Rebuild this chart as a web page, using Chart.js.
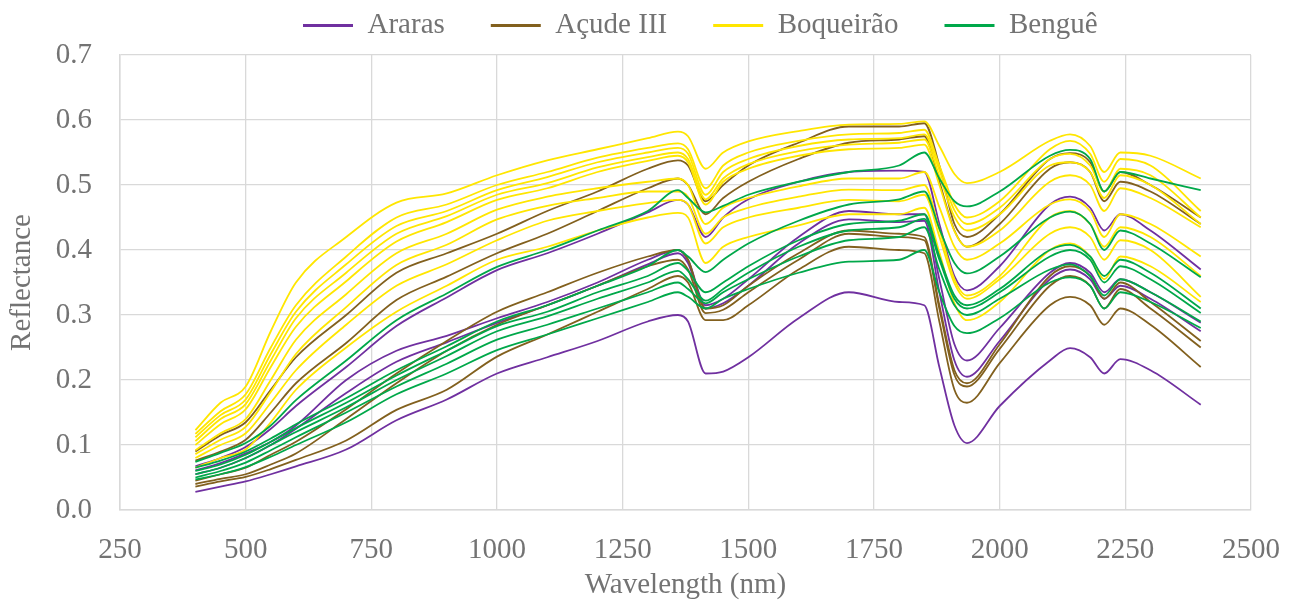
<!DOCTYPE html>
<html>
<head>
<meta charset="utf-8">
<script src="https://cdn.jsdelivr.net/npm/chart.js@4.4.1/dist/chart.umd.min.js"></script>
<style>
  html, body { margin: 0; padding: 0; background: #fff; }
  #wrap { width: 1303px; height: 603px; position: relative; }
</style>
</head>
<body>
<div id="wrap"><canvas id="grafico"></canvas></div>
<script>
// --- datos ---
const wavelength = [400, 450, 500, 550, 600, 700, 800, 900, 1000, 1100, 1200, 1300, 1360, 1380, 1415, 1450, 1500, 1600, 1700, 1800, 1850, 1880, 1910, 1935, 2000, 2100, 2140, 2180, 2208, 2240, 2300, 2400];

const seriesNames = ['Araras', 'Açude III', 'Boqueirão', 'Benguê'];
const seriesColors = ['#7030A0', '#82601E', '#FFE600', '#00A84A'];

// Araras
const araras1 = [.067, .08, .097, .125, .16, .22, .283, .327, .369, .395, .425, .458, .477, .47, .42, .45, .478, .505, .52, .522, .52, .44, .36, .338, .375, .47, .482, .465, .43, .455, .43, .37];
const araras2 = [.061, .072, .087, .105, .13, .20, .245, .268, .295, .32, .35, .385, .40, .385, .315, .325, .355, .42, .46, .455, .455, .355, .255, .23, .28, .365, .38, .365, .335, .355, .335, .288];
const araras3 = [.055, .065, .08, .10, .125, .18, .228, .258, .288, .315, .345, .378, .395, .38, .31, .318, .345, .41, .447, .443, .445, .335, .23, .205, .26, .355, .37, .355, .325, .345, .325, .275];
const araras4 = [.028, .036, .044, .055, .067, .093, .138, .17, .21, .235, .26, .29, .30, .29, .21, .213, .235, .295, .335, .32, .315, .22, .13, .103, .16, .23, .249, .235, .21, .232, .215, .162];

// Açude III
const acude1 = [.09, .115, .135, .185, .235, .30, .365, .395, .425, .46, .49, .525, .538, .53, .475, .50, .53, .565, .59, .59, .595, .53, .44, .42, .455, .54, .549, .535, .49, .52, .50, .45];
const acude2 = [.076, .09, .108, .15, .195, .257, .323, .359, .395, .425, .46, .495, .51, .50, .455, .48, .505, .54, .565, .57, .575, .505, .43, .405, .44, .525, .535, .52, .475, .505, .49, .44];
const acude3 = [.045, .055, .065, .085, .105, .155, .21, .26, .305, .335, .365, .39, .40, .385, .31, .315, .345, .395, .43, .425, .42, .315, .215, .195, .255, .36, .375, .36, .325, .35, .32, .26];
const acude4 = [.04, .048, .055, .07, .087, .14, .195, .245, .285, .315, .345, .375, .385, .37, .303, .308, .335, .385, .425, .42, .415, .31, .208, .19, .248, .345, .36, .345, .31, .34, .31, .25];
const acude5 = [.036, .044, .051, .063, .077, .107, .154, .185, .236, .27, .305, .34, .36, .35, .292, .292, .315, .37, .405, .40, .395, .29, .185, .165, .226, .315, .328, .315, .285, .31, .285, .22];

// Boqueirão
const boq1 = [.123, .165, .19, .275, .35, .42, .473, .487, .515, .538, .555, .572, .582, .575, .525, .55, .567, .583, .593, .594, .598, .56, .517, .503, .52, .568, .578, .56, .52, .55, .545, .51];
const boq2 = [.117, .152, .178, .25, .315, .39, .45, .47, .50, .52, .542, .557, .564, .555, .495, .53, .55, .568, .578, .58, .585, .53, .47, .45, .475, .555, .568, .548, .505, .54, .53, .46];
const boq3 = [.112, .146, .17, .24, .305, .378, .437, .46, .492, .512, .535, .55, .557, .548, .485, .52, .54, .56, .57, .572, .578, .523, .461, .44, .465, .54, .548, .53, .49, .525, .515, .45];
const boq4 = [.106, .14, .163, .23, .295, .365, .425, .452, .485, .503, .527, .543, .55, .54, .478, .51, .532, .552, .562, .565, .57, .514, .451, .43, .455, .53, .535, .52, .48, .515, .50, .44];
const boq5 = [.10, .132, .155, .22, .282, .352, .413, .443, .477, .495, .52, .537, .545, .535, .47, .505, .525, .545, .555, .557, .562, .50, .429, .405, .43, .505, .515, .50, .46, .495, .48, .435];
const boq6 = [.092, .118, .14, .20, .262, .332, .395, .425, .462, .482, .495, .505, .51, .50, .44, .465, .48, .498, .51, .51, .52, .466, .405, .385, .41, .47, .478, .46, .42, .455, .44, .39];
const boq7 = [.086, .108, .128, .182, .24, .312, .377, .408, .447, .468, .48, .49, .49, .482, .425, .45, .465, .482, .493, .492, .50, .432, .355, .33, .36, .45, .46, .44, .405, .435, .42, .36];
const boq8 = [.08, .10, .118, .165, .215, .285, .345, .378, .415, .445, .46, .472, .477, .47, .41, .435, .45, .465, .477, .475, .485, .421, .349, .325, .355, .425, .435, .42, .385, .415, .40, .328];
const boq9 = [.065, .08, .093, .135, .185, .25, .305, .345, .385, .405, .43, .45, .457, .45, .38, .405, .42, .438, .455, .455, .465, .396, .318, .292, .32, .40, .41, .39, .355, .39, .375, .32];

// Benguê
const bengue1 = [.074, .088, .103, .13, .169, .23, .292, .333, .374, .40, .43, .46, .492, .48, .458, .468, .485, .505, .52, .53, .55, .51, .475, .467, .49, .545, .554, .54, .49, .52, .51, .492];
const bengue2 = [.065, .076, .09, .11, .132, .172, .215, .252, .29, .315, .345, .375, .40, .39, .366, .385, .41, .445, .47, .478, .49, .433, .38, .364, .39, .45, .459, .44, .40, .43, .41, .358];
const bengue3 = [.06, .07, .085, .105, .126, .165, .207, .245, .283, .305, .335, .36, .38, .368, .335, .35, .375, .415, .44, .445, .455, .39, .33, .315, .34, .40, .408, .39, .36, .385, .365, .31];
const bengue4 = [.055, .065, .08, .10, .12, .158, .20, .237, .275, .298, .325, .35, .368, .355, .322, .34, .365, .405, .43, .435, .448, .385, .325, .31, .335, .39, .40, .385, .35, .375, .355, .303];
const bengue5 = [.05, .06, .073, .092, .112, .15, .19, .225, .262, .285, .31, .335, .35, .34, .318, .335, .355, .39, .415, .42, .435, .37, .315, .30, .325, .37, .378, .36, .33, .355, .335, .29];
const bengue6 = [.047, .055, .066, .082, .10, .135, .178, .21, .246, .27, .295, .32, .335, .328, .31, .325, .34, .365, .382, .385, .40, .335, .283, .272, .295, .35, .358, .345, .31, .335, .32, .28];

const groups = [
    [araras1, araras2, araras3, araras4],
    [acude1, acude2, acude3, acude4, acude5],
    [boq1, boq2, boq3, boq4, boq5, boq6, boq7, boq8, boq9],
    [bengue1, bengue2, bengue3, bengue4, bengue5, bengue6]
];

const yTicks = [0, 0.1, 0.2, 0.3, 0.4, 0.5, 0.6, 0.7];

// --- estilo ---
const FONT = { family: '"Liberation Serif", "Times New Roman", serif', size: 29 };
const TEXT = '#737373';
const GRID = '#d9d9d9';

// armar datasets (solo el primero de cada grupo va a la leyenda)
const datasets = [];
const legendIdx = [];
groups.forEach((curvas, g) => {
    curvas.forEach((valores, k) => {
        if (k === 0) legendIdx.push(datasets.length);
        datasets.push({
            label: seriesNames[g],
            data: valores.map((v, i) => ({ x: wavelength[i], y: v })),
            borderColor: seriesColors[g],
            backgroundColor: seriesColors[g],
            borderWidth: 1.8,
            pointRadius: 0,
            fill: false,
            cubicInterpolationMode: 'monotone',
            order: [3, 2, 1, 0][g]
        });
    });
});

// leyenda: alto fijo y posición como en el original
const legendBox = {
    id: 'legendBox',
    beforeInit(chart) {
        const fitOrig = chart.legend.fit;
        chart.legend.fit = function () {
            fitOrig.bind(chart.legend)();
            this.height = 55;
        };
    },
    afterLayout(chart) {
        const lg = chart.legend;
        const w = lg.width;
        lg.top = -35;
        lg.left = 257;
        lg.right = 257 + w;
    }
};

const chart = new Chart(document.getElementById('grafico'), {
    type: 'line',
    data: { datasets: datasets },
    plugins: [legendBox],
    options: {
        responsive: true,
        maintainAspectRatio: false,
        animation: false,
        parsing: false,
        layout: { padding: { left: 0, right: 43, top: 0, bottom: 0 } },
        plugins: {
            tooltip: { enabled: false },
            legend: {
                display: true,
                position: 'top',
                align: 'start',
                labels: {
                    font: FONT,
                    color: TEXT,
                    boxWidth: 50,
                    boxHeight: 3,
                    padding: 46,
                    generateLabels: (c) => Chart.defaults.plugins.legend.labels.generateLabels(c)
                        .filter(l => legendIdx.includes(l.datasetIndex))
                        .sort((a, b) => a.datasetIndex - b.datasetIndex)
                        .map(l => Object.assign(l, { lineWidth: 0, fillStyle: l.strokeStyle }))
                }
            }
        },
        scales: {
            x: {
                type: 'linear',
                min: 250,
                max: 2500,
                ticks: { stepSize: 250, font: FONT, color: TEXT, padding: 23, maxRotation: 0, autoSkip: false, callback: (v) => String(v) },
                grid: { color: GRID, lineWidth: 1.3, drawTicks: false },
                border: { color: GRID, width: 1.5 },
                title: { display: true, text: 'Wavelength (nm)', font: FONT, color: TEXT, padding: { top: 0, bottom: 0 } },
                afterFit: (s) => { s.height = 93; }
            },
            y: {
                min: 0,
                max: 0.7,
                afterBuildTicks: (s) => { s.ticks = yTicks.map(v => ({ value: v })); },
                ticks: { font: FONT, color: TEXT, padding: 28, callback: (v) => Number(v).toFixed(1) },
                grid: { color: GRID, lineWidth: 1.3, drawTicks: false },
                border: { color: GRID, width: 1.5 },
                title: { display: true, text: 'Reflectance', font: FONT, color: TEXT, padding: { top: 5, bottom: 0 } },
                afterFit: (s) => { s.width = 120; }
            }
        }
    }
});
</script>
</body>
</html>
